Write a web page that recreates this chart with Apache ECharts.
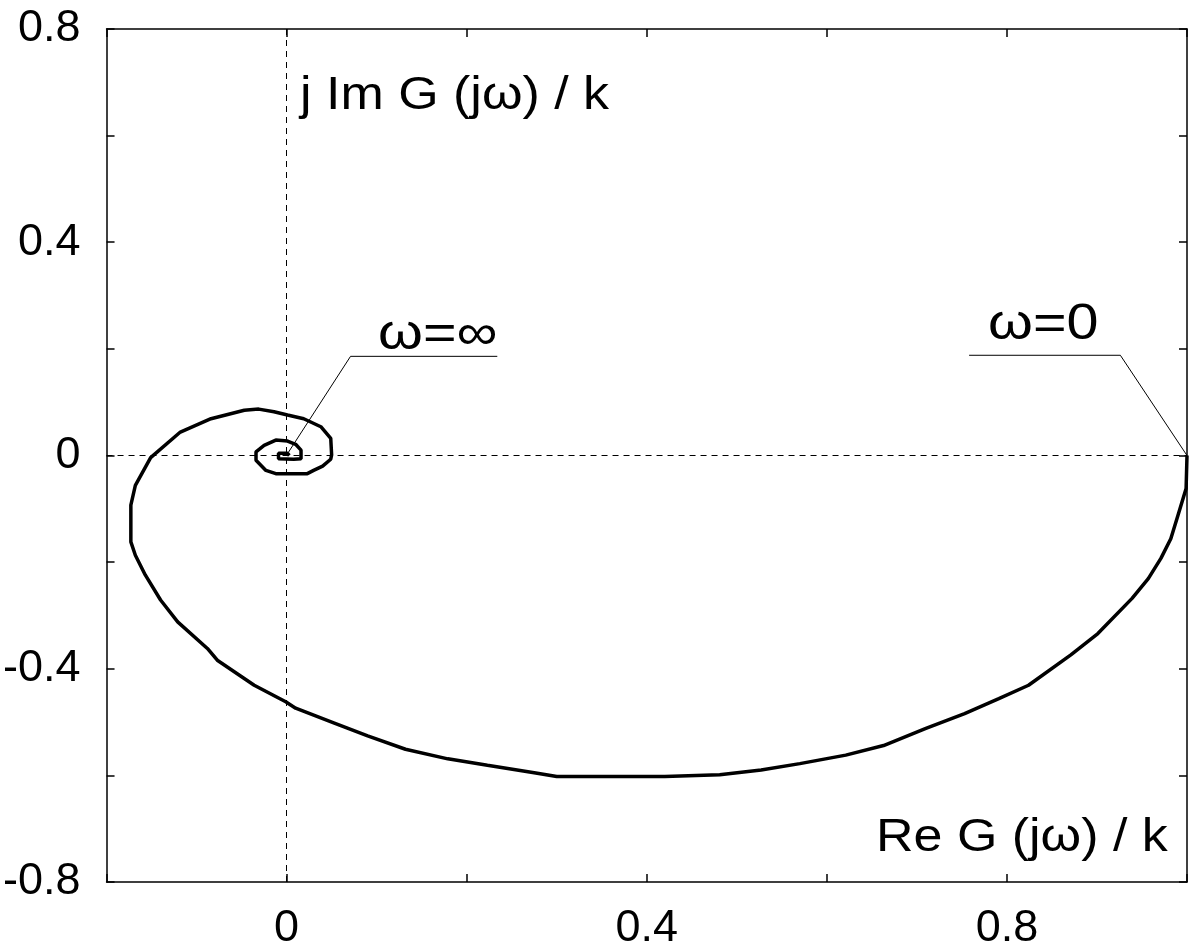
<!DOCTYPE html>
<html>
<head>
<meta charset="utf-8">
<script src="https://cdn.jsdelivr.net/npm/echarts@6/dist/echarts.min.js"></script>
<style>
html,body{margin:0;padding:0;background:#fff;}
#chart{width:1199px;height:952px;}
</style>
</head>
<body>
<div id="chart"></div>
<script>
// Nyquist curve G(jω)/k : real and imaginary parts, from ω=0 to ω=∞
const reValues = [1.000,0.999,0.990,0.982,0.971,0.957,0.939,0.901,0.871,0.824,0.791,0.753,0.710,0.663,0.621,0.570,0.527,0.481,0.420,0.349,0.300,0.275,0.223,0.179,0.132,0.090,0.053,0.010,-0.001,-0.036,-0.077,-0.088,-0.121,-0.140,-0.157,-0.168,-0.173,-0.173,-0.168,-0.151,-0.118,-0.084,-0.047,-0.031,-0.014,0.001,0.019,0.038,0.049,0.050,0.049,0.040,0.030,0.023,-0.012,-0.023,-0.034,-0.034,-0.025,-0.012,0.001,0.010,0.016,0.016,0.008,-0.009,-0.009,0.001,0.003];
const imValues = [0.000,-0.062,-0.112,-0.156,-0.193,-0.231,-0.268,-0.334,-0.374,-0.431,-0.456,-0.484,-0.512,-0.544,-0.562,-0.578,-0.590,-0.599,-0.602,-0.602,-0.602,-0.595,-0.581,-0.569,-0.551,-0.526,-0.502,-0.474,-0.462,-0.431,-0.384,-0.362,-0.312,-0.271,-0.224,-0.187,-0.162,-0.093,-0.056,-0.004,0.044,0.069,0.085,0.087,0.082,0.076,0.069,0.054,0.032,0.001,-0.007,-0.020,-0.028,-0.034,-0.034,-0.028,-0.009,0.007,0.019,0.029,0.027,0.021,0.010,-0.006,-0.007,-0.006,0.004,0.004,0.000];

// Axis ranges and ticks
const xMin = -0.2, xMax = 1.0, xStep = 0.2;
const yMin = -0.8, yMax = 0.8, yStep = 0.2;
const labelEvery = 0.4;

// Annotation leader lines (data coordinates)
const leaderInfRe = [0.002, 0.071, 0.234];
const leaderInfIm = [0.006, 0.186, 0.186];
const leaderZeroRe = [1.000, 0.926, 0.758];
const leaderZeroIm = [0.000, 0.188, 0.188];

// Text labels
const textImAxis = 'j Im G (jω) / k';
const textReAxis = 'Re G (jω) / k';
const textInf = 'ω=∞';
const textZero = 'ω=0';

const zip = (a, b) => a.map((v, i) => [v, b[i]]);
const FONT = '"Liberation Sans", Arial, Helvetica, sans-serif';

function fmt(v) {
  const r = Math.round(v * 10);
  if (r % Math.round(labelEvery * 10) !== 0) return '';
  return r === 0 ? '0' : (r / 10).toString();
}

const axisCommon = {
  type: 'value',
  axisLine: { show: true, onZero: false, lineStyle: { color: '#000', width: 1.5 } },
  axisTick: { show: true, inside: true, length: 8, lineStyle: { color: '#000', width: 1.5 } },
  splitLine: { show: false }
};

const chart = echarts.init(document.getElementById('chart'), null, { renderer: 'canvas' });
chart.setOption({
  animation: false,
  backgroundColor: '#fff',
  grid: { left: 105, right: 12, top: 29, bottom: 70, containLabel: false },
  xAxis: [
    Object.assign({}, axisCommon, {
      position: 'bottom', min: xMin, max: xMax, interval: xStep,
      axisLabel: { show: true, formatter: fmt, color: '#000', fontSize: 45, fontFamily: FONT, margin: 24, showMinLabel: true, showMaxLabel: true }
    }),
    Object.assign({}, axisCommon, {
      position: 'top', min: xMin, max: xMax, interval: xStep,
      axisLabel: { show: false }
    })
  ],
  yAxis: [
    Object.assign({}, axisCommon, {
      position: 'left', min: yMin, max: yMax, interval: yStep,
      axisLabel: { show: true, formatter: fmt, color: '#000', fontSize: 45, fontFamily: FONT, margin: 26, padding: [0, 0, 6, 0] }
    }),
    Object.assign({}, axisCommon, {
      position: 'right', min: yMin, max: yMax, interval: yStep,
      axisLabel: { show: false }
    })
  ],
  series: [
    {
      type: 'line',
      data: zip(reValues, imValues),
      showSymbol: false,
      smooth: false,
      lineStyle: { color: '#000', width: 3.5 },
      z: 5,
      markLine: {
        silent: true,
        symbol: 'none',
        label: { show: false },
        lineStyle: { color: '#000', width: 1, type: [6, 5] },
        data: [{ xAxis: 0 }, { yAxis: 0 }]
      }
    },
    {
      type: 'line',
      data: zip(leaderInfRe, leaderInfIm),
      showSymbol: false,
      lineStyle: { color: '#000', width: 1 },
      z: 4
    },
    {
      type: 'line',
      data: zip(leaderZeroRe, leaderZeroIm),
      showSymbol: false,
      lineStyle: { color: '#000', width: 1 },
      z: 4
    }
  ],
  graphic: [
    { type: 'text', x: 300, y: 96, scaleX: 1.13, style: { text: textImAxis, font: '46px ' + FONT, fill: '#000', textAlign: 'left', textVerticalAlign: 'middle' } },
    { type: 'text', x: 876, y: 838, scaleX: 1.13, style: { text: textReAxis, font: '46px ' + FONT, fill: '#000', textAlign: 'left', textVerticalAlign: 'middle' } },
    { type: 'text', x: 378, y: 335, scaleX: 1.15, style: { text: textInf, font: '50px ' + FONT, fill: '#000', textAlign: 'left', textVerticalAlign: 'middle' } },
    { type: 'text', x: 988, y: 325, scaleX: 1.15, style: { text: textZero, font: '50px ' + FONT, fill: '#000', textAlign: 'left', textVerticalAlign: 'middle' } }
  ]
});
</script>
</body>
</html>
